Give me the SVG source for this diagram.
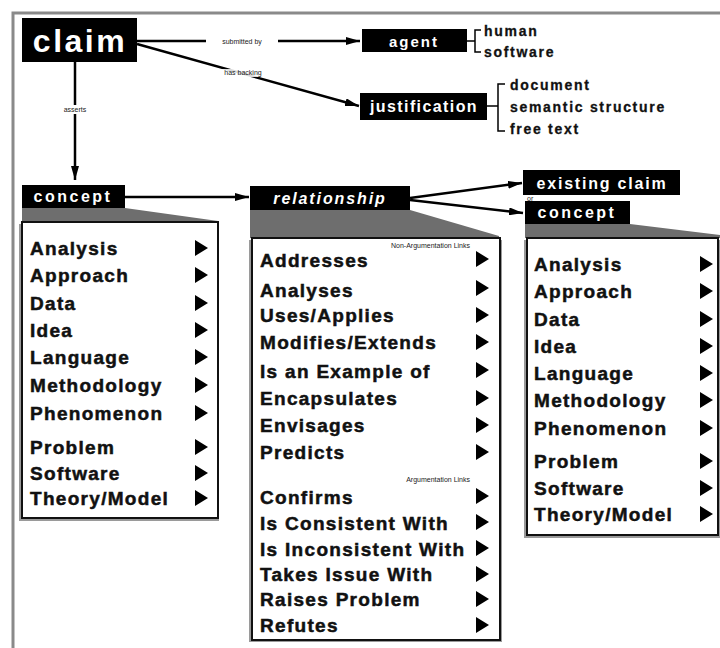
<svg xmlns="http://www.w3.org/2000/svg" width="720" height="648" viewBox="0 0 720 648">
<style>
.hdr{fill:#000}
.ht{fill:#fff;font-family:"Liberation Sans",Arial,sans-serif;font-weight:bold}
.band{fill:#6e6e6e}
.panel{fill:#fff;stroke:#111;stroke-width:2}
.shadow{fill:#9a9a9a}
.item{font-family:"Liberation Sans",Arial,sans-serif;font-weight:bold;font-size:19px;letter-spacing:1.3px;fill:#111;stroke:#111;stroke-width:0.5}
.tri{fill:#000}
.sub{font-family:"Liberation Sans",Arial,sans-serif;font-weight:bold;font-size:14px;letter-spacing:1.7px;fill:#111;stroke:#111;stroke-width:0.3}
.tiny{font-family:"Liberation Sans",Arial,sans-serif;font-size:7px;fill:#222}
.conn{stroke:#000;stroke-width:2.5;fill:none}
.br{stroke:#000;stroke-width:1.5;fill:none}
</style>
<defs>
<marker id="ah" viewBox="0 0 14 8" refX="14" refY="4" markerWidth="14" markerHeight="8" markerUnits="userSpaceOnUse" orient="auto">
<path d="M0,0 L14,4 L0,8 z" fill="#000"/>
</marker>
<path id="tr" d="M0,-8 L13,0 L0,8 z"/>
</defs>
<rect width="720" height="648" fill="#fff"/>
<path d="M13,648 L13,13 L720,13" fill="none" stroke="#8a8a8a" stroke-width="3"/>

<g id="connectors">
<line class="conn" x1="137" y1="41" x2="360" y2="41" marker-end="url(#ah)"/>
<line class="conn" x1="137" y1="44" x2="359" y2="106" marker-end="url(#ah)"/>
<line class="conn" x1="75" y1="62" x2="75" y2="180" marker-end="url(#ah)"/>
<line class="conn" x1="125" y1="197" x2="249" y2="197" marker-end="url(#ah)"/>
<line class="conn" x1="410" y1="198" x2="522" y2="183" marker-end="url(#ah)"/>
<line class="conn" x1="410" y1="200" x2="523" y2="213" marker-end="url(#ah)"/>
<rect x="206" y="37" width="72" height="9" fill="#fff"/>
<text class="tiny" x="242" y="44" text-anchor="middle">submitted by</text>
<rect x="214" y="69" width="58" height="8" fill="#fff" opacity="0.85"/>
<text class="tiny" x="243" y="75" text-anchor="middle">has backing</text>
<rect x="56" y="105" width="38" height="9" fill="#fff"/>
<text class="tiny" x="75" y="112" text-anchor="middle">asserts</text>
</g>

<g id="claim">
<rect class="hdr" x="22" y="18" width="115" height="44"/>
<text class="ht" x="80" y="52" font-size="32" letter-spacing="2.5" text-anchor="middle">claim</text>
</g>

<g id="agent">
<rect class="hdr" x="362" y="29" width="105" height="23"/>
<text class="ht" x="414" y="47" font-size="15" letter-spacing="2" text-anchor="middle">agent</text>
<path class="br" d="M467,41 H475 M481,30 H475 V52 H481"/>
<text class="sub" x="484" y="36">human</text>
<text class="sub" x="484" y="57">software</text>
</g>

<g id="justification">
<rect class="hdr" x="360" y="93" width="127" height="27"/>
<text class="ht" x="424" y="112" font-size="16" letter-spacing="1.4" text-anchor="middle" font-weight="normal">justification</text>
<path class="br" d="M487,106 H498 M505,84 H498 V131 H505"/>
<text class="sub" x="510" y="90">document</text>
<text class="sub" x="510" y="112">semantic structure</text>
<text class="sub" x="510" y="134">free text</text>
</g>

<g id="concept-left">
<rect class="hdr" x="22" y="185" width="103" height="23"/>
<text class="ht" x="73" y="202" font-size="16" letter-spacing="2.5" text-anchor="middle">concept</text>
<polygon class="band" points="22,208 125,208 218,221 218,223 22,223"/>
<rect class="shadow" x="19" y="224" width="200" height="297"/>
<rect class="panel" x="22" y="222" width="196" height="296"/>
<g class="item">
<text x="30" y="255">Analysis</text>
<text x="30" y="282">Approach</text>
<text x="30" y="310">Data</text>
<text x="30" y="337">Idea</text>
<text x="30" y="364">Language</text>
<text x="30" y="392">Methodology</text>
<text x="30" y="420">Phenomenon</text>
<text x="30" y="454">Problem</text>
<text x="30" y="480">Software</text>
<text x="30" y="505">Theory/Model</text>
</g>
<g class="tri">
<use href="#tr" x="195" y="248"/><use href="#tr" x="195" y="275"/><use href="#tr" x="195" y="303"/><use href="#tr" x="195" y="330"/><use href="#tr" x="195" y="357"/><use href="#tr" x="195" y="385"/><use href="#tr" x="195" y="413"/><use href="#tr" x="195" y="447"/><use href="#tr" x="195" y="473"/><use href="#tr" x="195" y="498"/>
</g>
</g>

<g id="relationship">
<rect class="hdr" x="250" y="186" width="160" height="24"/>
<text class="ht" x="330" y="204" font-size="16" letter-spacing="1.9" font-style="italic" text-anchor="middle">relationship</text>
<polygon class="band" points="250,210 410,210 499,236 499,238 250,238"/>
<rect class="shadow" x="249" y="240" width="253" height="402"/>
<rect class="panel" x="252" y="238" width="248" height="402"/>
<text class="tiny" x="470" y="248" text-anchor="end" font-size="6">Non-Argumentation Links</text>
<text class="tiny" x="470" y="482" text-anchor="end" font-size="6">Argumentation Links</text>
<g class="item">
<text x="260" y="267">Addresses</text>
<text x="260" y="297">Analyses</text>
<text x="260" y="322">Uses/Applies</text>
<text x="260" y="349">Modifies/Extends</text>
<text x="260" y="378">Is an Example of</text>
<text x="260" y="405">Encapsulates</text>
<text x="260" y="432">Envisages</text>
<text x="260" y="459">Predicts</text>
<text x="260" y="504">Confirms</text>
<text x="260" y="530">Is Consistent With</text>
<text x="260" y="556">Is Inconsistent With</text>
<text x="260" y="581">Takes Issue With</text>
<text x="260" y="606">Raises Problem</text>
<text x="260" y="632">Refutes</text>
</g>
<g class="tri">
<use href="#tr" x="476" y="259"/><use href="#tr" x="476" y="288"/><use href="#tr" x="476" y="315"/><use href="#tr" x="476" y="342"/><use href="#tr" x="476" y="370"/><use href="#tr" x="476" y="398"/><use href="#tr" x="476" y="425"/><use href="#tr" x="476" y="452"/><use href="#tr" x="476" y="496"/><use href="#tr" x="476" y="522"/><use href="#tr" x="476" y="548"/><use href="#tr" x="476" y="574"/><use href="#tr" x="476" y="599"/><use href="#tr" x="476" y="625"/>
</g>
</g>

<g id="existing-claim">
<rect class="hdr" x="523" y="170" width="157" height="25"/>
<text class="ht" x="602" y="189" font-size="16" letter-spacing="1.8" text-anchor="middle">existing claim</text>
</g>

<text class="tiny" x="527" y="201" font-size="8">or</text>

<g id="concept-right">
<rect class="hdr" x="525" y="201" width="105" height="23"/>
<text class="ht" x="577" y="218" font-size="16" letter-spacing="2.5" text-anchor="middle">concept</text>
<polygon class="band" points="525,224 630,224 720,235 720,238 525,238"/>
<rect class="shadow" x="524" y="240" width="196" height="298"/>
<rect class="panel" x="527" y="238" width="191" height="297"/>
<g class="item">
<text x="534" y="271">Analysis</text>
<text x="534" y="298">Approach</text>
<text x="534" y="326">Data</text>
<text x="534" y="353">Idea</text>
<text x="534" y="380">Language</text>
<text x="534" y="407">Methodology</text>
<text x="534" y="435">Phenomenon</text>
<text x="534" y="468">Problem</text>
<text x="534" y="495">Software</text>
<text x="534" y="521">Theory/Model</text>
</g>
<g class="tri">
<use href="#tr" x="700" y="264"/><use href="#tr" x="700" y="291"/><use href="#tr" x="700" y="319"/><use href="#tr" x="700" y="346"/><use href="#tr" x="700" y="373"/><use href="#tr" x="700" y="400"/><use href="#tr" x="700" y="428"/><use href="#tr" x="700" y="461"/><use href="#tr" x="700" y="488"/><use href="#tr" x="700" y="514"/>
</g>
</g>
</svg>
